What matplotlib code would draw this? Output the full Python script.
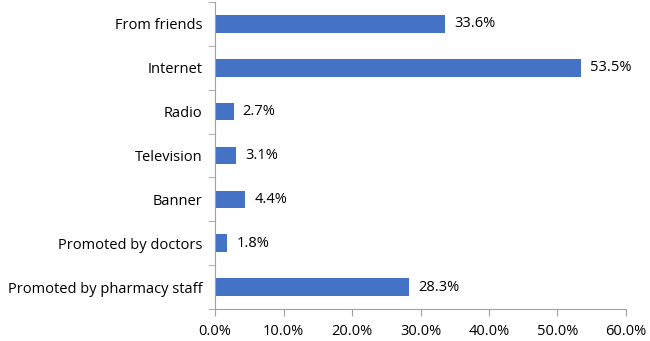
import matplotlib.pyplot as plt
import numpy as np
from matplotlib.ticker import FixedLocator

categories = ['From friends', 'Internet', 'Radio', 'Television', 'Banner',
              'Promoted by doctors', 'Promoted by pharmacy staff']
values = [33.6, 53.5, 2.7, 3.1, 4.4, 1.8, 28.3]
xticks = [0, 10, 20, 30, 40, 50, 60]


def main():
    plt.rcParams['font.family'] = ['Open Sans', 'DejaVu Sans']
    fig = plt.figure(figsize=(6.5, 3.41), dpi=100)
    ax = fig.add_axes([0.331, 0.094, 0.632, 0.9])

    y = np.arange(len(categories))
    ax.barh(y, values, height=0.4, color='#4472C4')
    for yi, v in zip(y, values):
        ax.text(v + 1.3, yi, f'{v:.1f}%', va='center', ha='left', fontsize=10.5)

    ax.set_ylim(len(categories) - 0.5, -0.5)
    ax.set_yticks(y)
    ax.set_yticklabels(categories, fontsize=10.5)
    ax.yaxis.set_minor_locator(FixedLocator(np.arange(-0.5, len(categories), 1)))
    ax.tick_params(axis='y', which='major', length=0, pad=9)
    ax.tick_params(axis='y', which='minor', length=5, color='#A0A0A0')

    ax.set_xlim(0, 60)
    ax.set_xticks(xticks)
    ax.set_xticklabels([f'{t:.1f}%' for t in xticks], fontsize=10.5)
    ax.tick_params(axis='x', length=5, color='#A0A0A0', pad=6)

    for s in ['top', 'right']:
        ax.spines[s].set_visible(False)
    for s in ['left', 'bottom']:
        ax.spines[s].set_color('#A0A0A0')

    fig.savefig('out.png', dpi=100)


if __name__ == '__main__':
    main()
